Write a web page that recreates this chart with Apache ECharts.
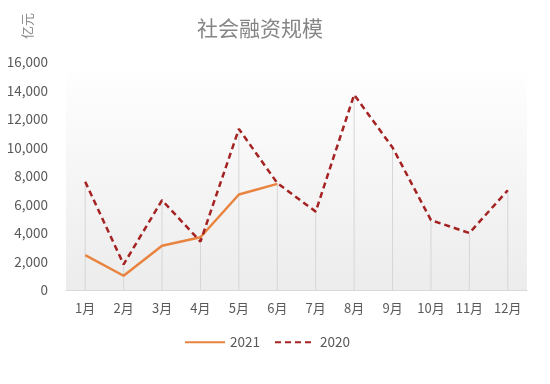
<!DOCTYPE html>
<html><head><meta charset="utf-8">
<script src="https://cdn.jsdelivr.net/npm/echarts@6/dist/echarts.min.js"></script>
<style>html,body{margin:0;padding:0;background:#fff}#c{width:550px;height:384px}</style>
</head><body><div id="c"></div>
<script>
var months = ['1月','2月','3月','4月','5月','6月','7月','8月','9月','10月','11月','12月'];
var s2021 = [2450, 1000, 3100, 3700, 6700, 7450, null, null, null, null, null, null];
var s2020 = [7600, 1800, 6300, 3400, 11300, 7500, 5500, 13700, 10000, 4900, 4000, 7000];
var yTicks = [0, 2000, 4000, 6000, 8000, 10000, 12000, 14000, 16000];

var drops = months.map(function(m, i){
  var a = s2021[i], b = s2020[i];
  return Math.max(a == null ? 0 : a, b == null ? 0 : b);
});
var FONT = '"Noto Sans CJK SC", "Open Sans", sans-serif';
var chart = echarts.init(document.getElementById('c'));
chart.setOption({
  animation: false,
  title: { text: '社会融资规模', left: 192, top: 13, textStyle: { fontFamily: FONT, fontSize: 21, fontWeight: 'normal', color: '#858585' } },
  graphic: [{ type: 'text', left: 21, top: 13, rotation: Math.PI/2, style: { text: '亿元', fontFamily: FONT, fontSize: 13, fill: '#8a8a8a' } }],
  legend: {
    bottom: 30, left: 179, itemWidth: 40, itemHeight: 10, itemGap: 14,
    data: ['2021', '2020'],
    itemStyle: { opacity: 0 },
    textStyle: { fontFamily: FONT, fontSize: 13.5, color: '#595959' }
  },
  grid: { left: 66, right: 23, top: 62, bottom: 94, show: true, borderWidth: 0,
    backgroundColor: new echarts.graphic.LinearGradient(0,0,0,1,[{offset:0,color:'#ffffff'},{offset:1,color:'#ececec'}]) },
  xAxis: {
    type: 'category', data: months, boundaryGap: true,
    axisLine: { lineStyle: { color: '#d9d9d9', width: 1 } },
    axisTick: { show: false },
    axisLabel: { fontFamily: FONT, fontSize: 13, color: '#595959', margin: 12 }
  },
  yAxis: {
    type: 'value', min: yTicks[0], max: yTicks[yTicks.length-1], interval: 2000,
    axisLine: { show: false }, axisTick: { show: false }, splitLine: { show: false },
    axisLabel: { fontFamily: FONT, fontSize: 13.5, color: '#595959', margin: 18,
      formatter: function(v){ return v.toLocaleString('en-US'); } }
  },
  series: [
    { name: 'drop', type: 'bar', data: drops, barWidth: 1, silent: true, itemStyle: { color: '#d6d6d6' }, z: 1 },
    { name: '2021', type: 'line', data: s2021, symbol: 'none', connectNulls: false,
      lineStyle: { color: '#E8843F', width: 2.5 }, itemStyle: { color: '#E8843F' }, z: 3 },
    { name: '2020', type: 'line', data: s2020, symbol: 'none',
      lineStyle: { color: '#A52222', width: 2.5, type: [6, 4] }, itemStyle: { color: '#A52222' }, z: 4 }
  ]
});
</script></body></html>
